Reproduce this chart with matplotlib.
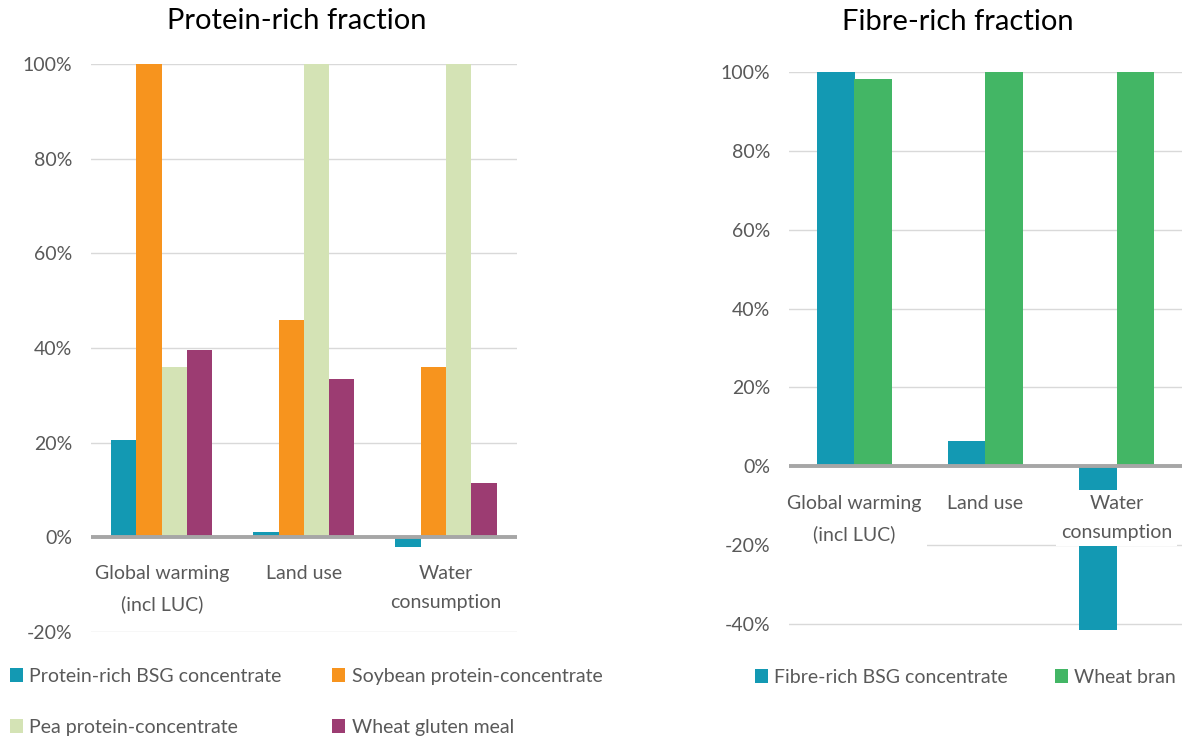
import matplotlib
matplotlib.use("Agg")
import matplotlib.pyplot as plt
import numpy as np
from matplotlib.ticker import FuncFormatter

plt.rcParams["font.family"] = ["Lato", "DejaVu Sans"]

# ---- data ----
categories = ["Global warming\n(incl LUC)", "Land use", "Water\nconsumption"]

protein_series = [
    "Protein-rich BSG concentrate",
    "Soybean protein-concentrate",
    "Pea protein-concentrate",
    "Wheat gluten meal",
]
protein_bsg = [20.5, 1.2, -2.1]
soybean = [100.0, 46.0, 36.0]
pea = [36.0, 100.0, 100.0]
gluten = [39.5, 33.5, 11.5]

fibre_series = ["Fibre-rich BSG concentrate", "Wheat bran"]
fibre_bsg = [100.0, 6.5, -41.5]
wheat_bran = [98.2, 100.0, 100.0]

protein_ticks = [-20, 0, 20, 40, 60, 80, 100]
fibre_ticks = [-40, -20, 0, 20, 40, 60, 80, 100]

# ---- styling ----
TEAL = "#1399b3"
ORANGE = "#f7941e"
PEA = "#d4e3b5"
PURPLE = "#9c3c72"
GREEN = "#43b665"
TEXT = "#595959"
GRID = "#d9d9d9"
ZERO = "#a6a6a6"

W, H = 1182, 740
fig = plt.figure(figsize=(W / 100, H / 100), dpi=100)


def px_axes(x0, x1, ytop, ybot):
    return fig.add_axes([x0 / W, 1 - ybot / H, (x1 - x0) / W, (ybot - ytop) / H])


def style(ax, ticks, ylim):
    ax.set_ylim(*ylim)
    ax.set_xlim(-0.5, 2.5)
    ax.set_yticks(ticks)
    ax.yaxis.set_major_formatter(FuncFormatter(lambda v, _: f"{v:.0f}%"))
    ax.set_xticks([])
    for s in ax.spines.values():
        s.set_visible(False)
    ax.tick_params(axis="y", length=0, pad=13.5, labelsize=14, labelcolor=TEXT)
    for t in ticks:
        if t != 0:
            ax.axhline(t, color=GRID, lw=1.0, zorder=0)
    ax.axhline(0, color=ZERO, lw=2.8, zorder=3)


def row_major(items, ncol):
    # legend fills column by column; reorder so entries read across rows
    rows = [items[i:i + ncol] for i in range(0, len(items), ncol)]
    return [r[c] for c in range(ncol) for r in rows if c < len(r)]


x = np.arange(len(categories))

# ---- protein-rich fraction ----
ax1 = px_axes(90.7, 517, 64, 632)
style(ax1, protein_ticks, (-20, 100))
pw = 0.178
p_vals = [protein_bsg, soybean, pea, gluten]
p_cols = [TEAL, ORANGE, PEA, PURPLE]
p_handles = []
for i, (vals, col, name) in enumerate(zip(p_vals, p_cols, protein_series)):
    b = ax1.bar(x + (i - 1.5) * pw, vals, pw, color=col, label=name, zorder=2)
    p_handles.append(b)
for xi, lab in zip(x, categories):
    ax1.text(xi, -5.9, lab, ha="center", va="top", fontsize=14, color=TEXT,
             linespacing=1.86, zorder=4)
fig.text(297 / W, 1 - 21 / H, "Protein-rich fraction", ha="center", va="center",
         fontsize=21, color="black")

# ---- fibre-rich fraction ----
ax2 = px_axes(789, 1182, 72, 632)
style(ax2, fibre_ticks, (-42, 100))
fw = 0.288
f_vals = [fibre_bsg, wheat_bran]
f_cols = [TEAL, GREEN]
f_handles = []
for i, (vals, col, name) in enumerate(zip(f_vals, f_cols, fibre_series)):
    b = ax2.bar(x + (i - 0.5) * fw, vals, fw, color=col, label=name, zorder=2)
    f_handles.append(b)
for xi, lab in zip(x, categories):
    ax2.text(xi, -7.3, lab, ha="center", va="top", fontsize=14, color=TEXT,
             linespacing=1.86, zorder=4,
             bbox=dict(facecolor="white", edgecolor="none", pad=3.5))
fig.text(958 / W, 1 - 22 / H, "Fibre-rich fraction", ha="center", va="center",
         fontsize=21, color="black")

# ---- legends ----
leg_kw = dict(frameon=False, fontsize=14, labelcolor=TEXT, handlelength=0.65,
              handleheight=0.75, handletextpad=0.35, borderaxespad=0, borderpad=0)
fig.legend(handles=row_major(p_handles, 2), labels=row_major(protein_series, 2),
           ncol=2, loc="upper left", bbox_to_anchor=(10 / W, 1 - 668 / H),
           columnspacing=2.6, labelspacing=1.75, **leg_kw)
fig.legend(handles=f_handles, labels=fibre_series, ncol=2, loc="upper left",
           bbox_to_anchor=(755 / W, 1 - 669 / H), columnspacing=2.4, **leg_kw)

fig.savefig("out.png", dpi=100, facecolor="white")
